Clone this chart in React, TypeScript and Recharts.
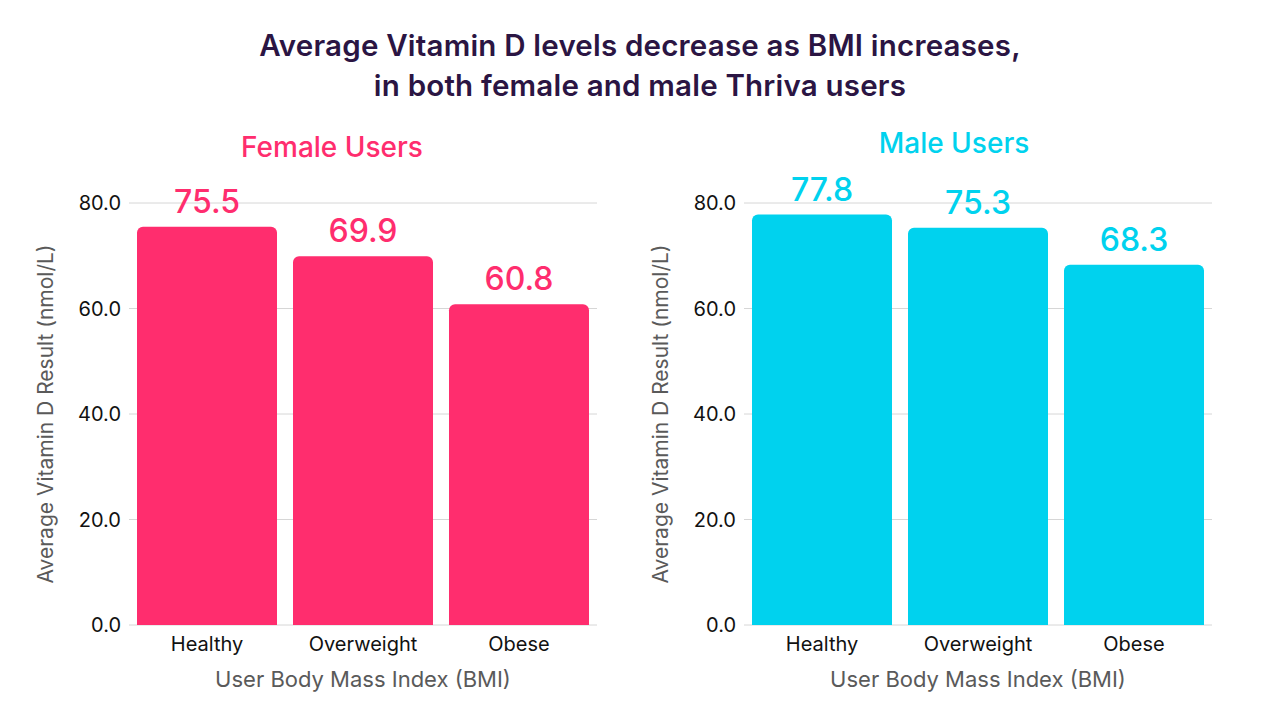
import React from "react";
import {
  BarChart,
  Bar,
  XAxis,
  YAxis,
  CartesianGrid,
  LabelList,
} from "recharts";

const categories = ["Healthy", "Overweight", "Obese"];
const femaleValues = [75.5, 69.9, 60.8];
const maleValues = [77.8, 75.3, 68.3];
const yTicks = [0, 20, 40, 60, 80];

const FONT = "Inter, 'Open Sans', sans-serif";
const PINK = "#FF2D6E";
const CYAN = "#00D2EE";

function Panel({
  values,
  color,
  title,
  left,
  titleX,
  titleY,
}: {
  values: number[];
  color: string;
  title: string;
  left: number;
  titleX: number;
  titleY: number;
}) {
  const data = categories.map((name, i) => ({ name, value: values[i] }));
  return (
    <div style={{ position: "absolute", left, top: 0, width: 620, height: 720 }}>
      <div
        style={{
          position: "absolute",
          left: titleX - 150,
          width: 300,
          top: titleY - 18,
          textAlign: "center",
          fontSize: 28,
          fontWeight: 500,
          color,
          fontFamily: FONT,
          lineHeight: "36px",
        }}
      >
        {title}
      </div>
      <BarChart
        width={620}
        height={720}
        data={data}
        margin={{ top: 203, right: 23, left: 29, bottom: 65 }}
        barSize={140}
      >
        <CartesianGrid vertical={false} stroke="#d6d6d6" />
        <XAxis
          dataKey="name"
          axisLine={false}
          tickLine={false}
          height={30}
          tickMargin={6}
          tick={{ fill: "#111", fontSize: 20, fontFamily: FONT }}
          label={{
            value: "User Body Mass Index (BMI)",
            position: "insideBottom",
            offset: -32,
            fill: "#5a5a5a",
            fontSize: 22,
            fontFamily: FONT,
          }}
        />
        <YAxis
          domain={[0, 80]}
          ticks={yTicks}
          axisLine={false}
          tickLine={false}
          width={100}
          tickFormatter={(v: number) => v.toFixed(1)}
          tick={{ fill: "#111", fontSize: 20, fontFamily: FONT }}
          label={{
            value: "Average Vitamin D Result (nmol/L)",
            angle: -90,
            position: "insideLeft",
            offset: 17,
            style: { textAnchor: "middle" },
            fill: "#5a5a5a",
            fontSize: 21,
            fontFamily: FONT,
          }}
        />
        <Bar
          dataKey="value"
          fill={color}
          radius={[6, 6, 0, 0]}
          isAnimationActive={false}
        >
          <LabelList
            dataKey="value"
            position="top"
            offset={14}
            fill={color}
            fontSize={32}
            fontFamily={FONT}
            fontWeight={500}
            formatter={(v: number) => v.toFixed(1)}
          />
        </Bar>
      </BarChart>
    </div>
  );
}

export default function App() {
  return (
    <div
      style={{
        position: "absolute",
        left: 0,
        top: 0,
        width: 1280,
        height: 720,
        background: "#fff",
        fontFamily: FONT,
      }}
    >
      <div
        style={{
          position: "absolute",
          top: 25,
          left: 0,
          width: 1280,
          textAlign: "center",
          fontSize: 29.5,
          fontWeight: 600,
          letterSpacing: "0.2px",
          color: "#2B1543",
          lineHeight: "40px",
        }}
      >
        Average Vitamin D levels decrease as BMI increases,
        <br />
        in both female and male Thriva users
      </div>
      <Panel
        values={femaleValues}
        color={PINK}
        title="Female Users"
        left={0}
        titleX={332}
        titleY={147}
      />
      <Panel
        values={maleValues}
        color={CYAN}
        title="Male Users"
        left={615}
        titleX={339}
        titleY={143}
      />
    </div>
  );
}
